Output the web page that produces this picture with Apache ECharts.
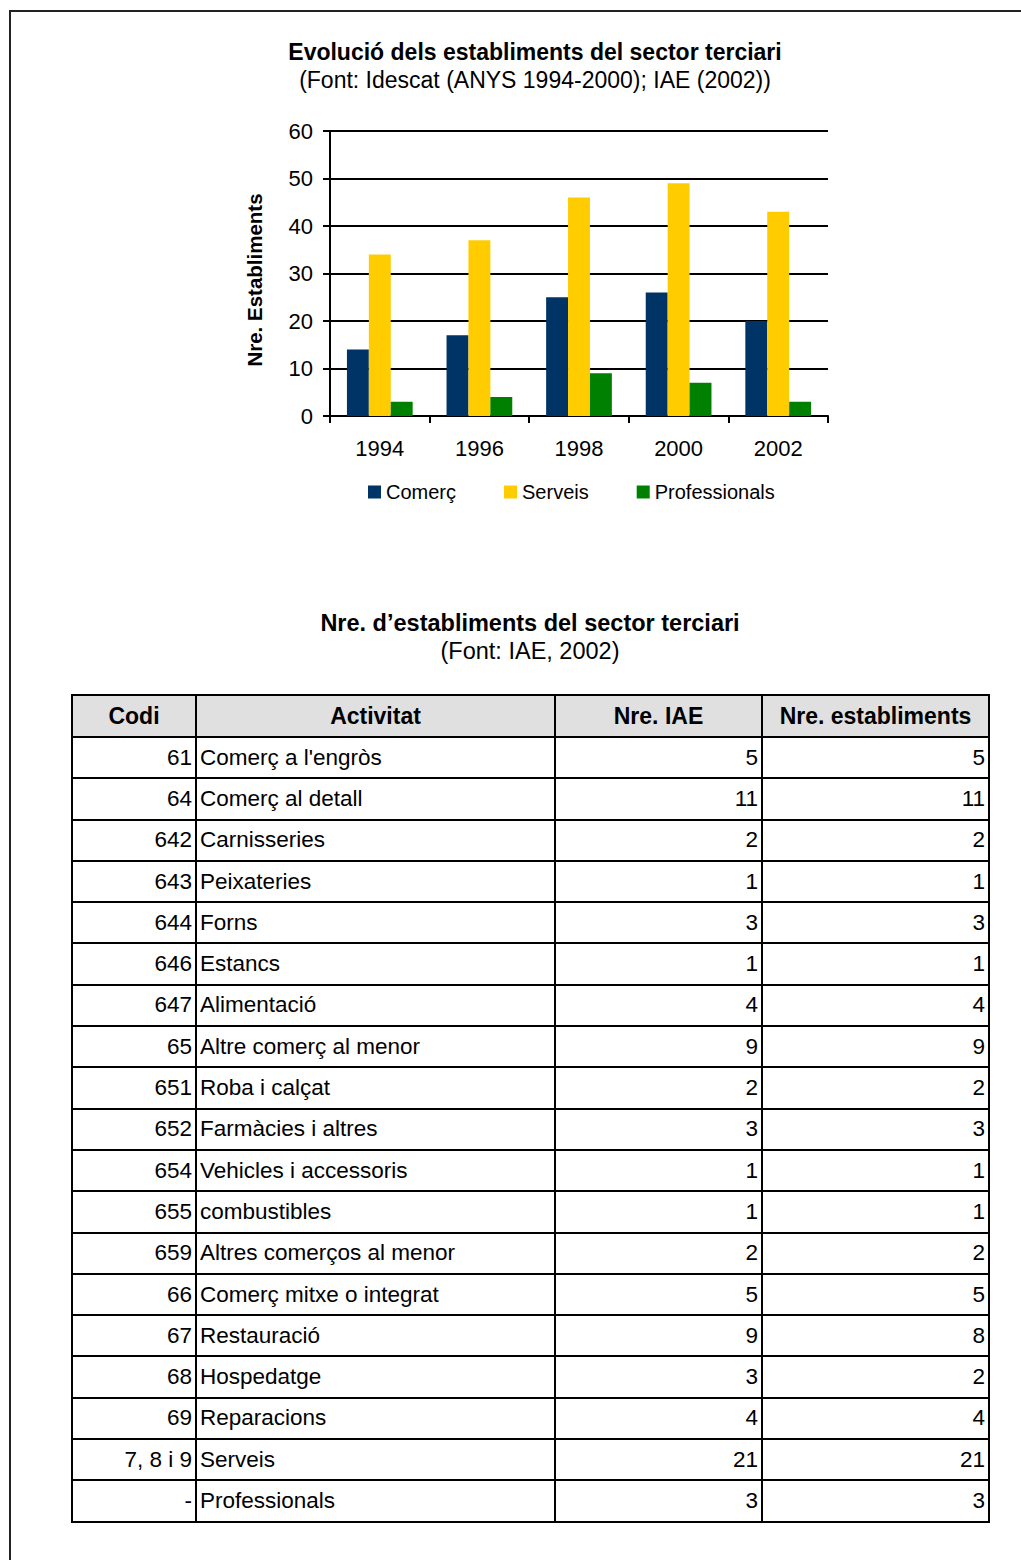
<!DOCTYPE html>
<html>
<head>
<meta charset="utf-8">
<script src="https://cdn.jsdelivr.net/npm/echarts@6/dist/echarts.min.js"></script>
<style>
  html, body { margin: 0; padding: 0; background: #fff; }
  body { width: 1021px; height: 1560px; position: relative; overflow: hidden; font-family: "Liberation Sans", Arial, sans-serif; }
  #frame { position: absolute; left: 9px; top: 10px; width: 1030px; height: 1600px; border-left: 2px solid #222; border-top: 2px solid #222; }
  #chart { position: absolute; left: 0; top: 0; width: 1021px; height: 560px; }
  .ttl { position: absolute; left: 280px; width: 500px; text-align: center; color: #000; font-size: 23.5px; white-space: nowrap; line-height: 28px; }
  #tbl { position: absolute; left: 71px; top: 694px; border-collapse: collapse; table-layout: fixed; width: 917px; font-size: 22.5px; color: #000; }
  #tbl th, #tbl td { border: 2px solid #000; padding: 0 3px; height: 41.3px; box-sizing: border-box; line-height: 24px; overflow: hidden; white-space: nowrap; }
  #tbl th { background: #e0e0e0; font-weight: bold; text-align: center; height: 42px; font-size: 23px; }
  #tbl td.r { text-align: right; }
  #tbl td.l { text-align: left; padding-left: 3px; }
</style>
</head>
<body>
<div id="frame"></div>
<div id="chart"></div>
<div class="ttl" style="top:609px;font-weight:bold;">Nre. d’establiments del sector terciari</div>
<div class="ttl" style="top:637px;">(Font: IAE, 2002)</div>
<table id="tbl"></table>
<script>
// ---- chart data ----
const years = ['1994', '1996', '1998', '2000', '2002'];
const comerc = [14, 17, 25, 26, 20];
const serveis = [34, 37, 46, 49, 43];
const professionals = [3, 4, 9, 7, 3];
const yTicks = [0, 10, 20, 30, 40, 50, 60];

// ---- table data ----
const tableHeader = ['Codi', 'Activitat', 'Nre. IAE', 'Nre. establiments'];
const codis = ['61', '64', '642', '643', '644', '646', '647', '65', '651', '652', '654', '655', '659', '66', '67', '68', '69', '7, 8 i 9', '-'];
const activitats = ["Comerç a l'engròs", 'Comerç al detall', 'Carnisseries', 'Peixateries', 'Forns', 'Estancs', 'Alimentació', 'Altre comerç al menor', 'Roba i calçat', 'Farmàcies i altres', 'Vehicles i accessoris', 'combustibles', 'Altres comerços al menor', 'Comerç mitxe o integrat', 'Restauració', 'Hospedatge', 'Reparacions', 'Serveis', 'Professionals'];
const nreIAE = [5, 11, 2, 1, 3, 1, 4, 9, 2, 3, 1, 1, 2, 5, 9, 3, 4, 21, 3];
const nreEstabliments = [5, 11, 2, 1, 3, 1, 4, 9, 2, 3, 1, 1, 2, 5, 8, 2, 4, 21, 3];

const FONT = '"Liberation Sans", Arial, sans-serif';
const chart = echarts.init(document.getElementById('chart'), null, { renderer: 'svg' });
chart.setOption({
  animation: false,
  backgroundColor: 'transparent',
  textStyle: { fontFamily: FONT },
  title: {
    text: 'Evolució dels establiments del sector terciari',
    subtext: '(Font: Idescat (ANYS 1994-2000); IAE (2002))',
    left: 530, top: 35, textAlign: 'center', itemGap: 5,
    textStyle: { fontFamily: FONT, fontSize: 23, fontWeight: 'bold', color: '#000' },
    subtextStyle: { fontFamily: FONT, fontSize: 23, color: '#000' }
  },
  legend: {
    left: 363, top: 477, itemWidth: 13, itemHeight: 13, itemGap: 48,
    icon: 'rect',
    textStyle: { fontFamily: FONT, fontSize: 20, color: '#000' },
    data: ['Comerç', 'Serveis', 'Professionals']
  },
  grid: { left: 330, top: 131, width: 498, height: 285, containLabel: false },
  xAxis: {
    type: 'category', data: years,
    axisLine: { lineStyle: { color: '#000', width: 2 } },
    axisTick: { show: true, length: 7, lineStyle: { color: '#000', width: 2 } },
    axisLabel: { color: '#000', fontSize: 22, margin: 21, fontFamily: FONT }
  },
  yAxis: {
    type: 'value', min: yTicks[0], max: yTicks[yTicks.length - 1], interval: 10,
    name: 'Nre. Establiments', nameLocation: 'middle', nameRotate: 90, nameGap: 65,
    nameTextStyle: { fontFamily: FONT, fontSize: 20.5, fontWeight: 'bold', color: '#000', padding: [0, 13, 0, 0] },
    axisLine: { show: true, lineStyle: { color: '#000', width: 2 } },
    axisTick: { show: true, length: 7, lineStyle: { color: '#000', width: 2 } },
    axisLabel: { color: '#000', fontSize: 22, margin: 17, fontFamily: FONT },
    splitLine: { show: true, lineStyle: { color: '#000', width: 2 } }
  },
  series: [
    { name: 'Comerç', type: 'bar', data: comerc, itemStyle: { color: '#003366' }, barGap: '0%', barCategoryGap: '34%' },
    { name: 'Serveis', type: 'bar', data: serveis, itemStyle: { color: '#FFCC00' } },
    { name: 'Professionals', type: 'bar', data: professionals, itemStyle: { color: '#008000' } }
  ]
});

// ---- table ----
const tbl = document.getElementById('tbl');
const colWidths = [124, 359, 207, 227];
let html = '<colgroup>' + colWidths.map(w => '<col style="width:' + w + 'px">').join('') + '</colgroup>';
html += '<tr>' + tableHeader.map(h => '<th>' + h + '</th>').join('') + '</tr>';
for (let i = 0; i < codis.length; i++) {
  html += '<tr><td class="r">' + codis[i] + '</td><td class="l">' + activitats[i] + '</td><td class="r">' + nreIAE[i] + '</td><td class="r">' + nreEstabliments[i] + '</td></tr>';
}
tbl.innerHTML = html;
</script>
</body>
</html>
